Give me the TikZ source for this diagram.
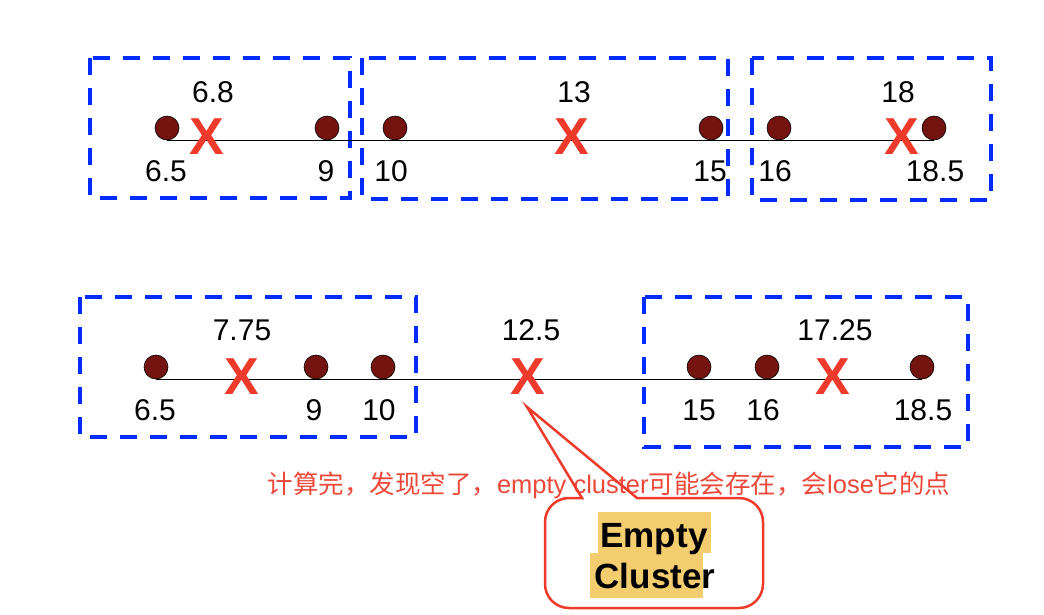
\documentclass[tikz,border=0pt]{standalone}
\usepackage{fontspec}
\setmainfont{Liberation Sans}
\newfontfamily\cjk{Noto Sans CJK SC}
\definecolor{boxblue}{RGB}{0,45,255}
\definecolor{dotred}{RGB}{115,20,16}
\definecolor{xred}{RGB}{238,58,42}
\definecolor{notered}{RGB}{236,72,58}
\definecolor{hl}{RGB}{243,205,110}
\begin{document}
\begin{tikzpicture}[x=1pt,y=-1pt,
  clusterbox/.style={draw=boxblue, line width=3.5pt, dash pattern=on 17pt off 13pt},
  datapt/.style={circle, fill=dotred, draw=black, line width=0.6pt, minimum size=24pt, inner sep=0pt},
  centroid/.style={text=xred, font=\fontsize{52}{52}\selectfont\bfseries, inner sep=0pt},
  num/.style={font=\fontsize{30}{30}\selectfont, inner sep=0pt},
  axisline/.style={line width=1.5pt, draw=black},
  callout/.style={draw=xred, line width=2.5pt}]
\useasboundingbox (0,0) rectangle (1044,614);
% ---------- top row ----------
\draw[clusterbox] (90,58) rectangle (350,198);
\draw[clusterbox] (362,58) rectangle (728,199);
\draw[clusterbox] (752,58) rectangle (991,200);
\node[datapt] (t1) at (167,128) {};
\node[datapt] (t2) at (327,128) {};
\node[datapt] (t3) at (395,128) {};
\node[datapt] (t4) at (711,128) {};
\node[datapt] (t5) at (779,128) {};
\node[datapt] (t6) at (934,128) {};
\draw[axisline] (t1.south) -- (t6.south);
\node[centroid] (tc1) at (207,137) {X};
\node[centroid] (tc2) at (572,137) {X};
\node[centroid] (tc3) at (902,137) {X};
\node[num] (tl1) at (213,92) {6.8};
\node[num] (tl2) at (574,92) {13};
\node[num] (tl3) at (898,92) {18};
\node[num] (tb1) at (166,171) {6.5};
\node[num] (tb2) at (326,171) {9};
\node[num] (tb3) at (391,171) {10};
\node[num] (tb4) at (710,171) {15};
\node[num] (tb5) at (775,171) {16};
\node[num] (tb6) at (935,171) {18.5};
% ---------- bottom row ----------
\draw[clusterbox] (80,297) rectangle (416,437);
\draw[clusterbox] (644,297) rectangle (968,447);
\node[datapt] (b1) at (156,367) {};
\node[datapt] (b2) at (316,367) {};
\node[datapt] (b3) at (383,367) {};
\node[datapt] (b4) at (699,367) {};
\node[datapt] (b5) at (767,367) {};
\node[datapt] (b6) at (922,367) {};
\draw[axisline] (b1.south) -- (b6.south);
\node[centroid] (bc1) at (242,377) {X};
\node[centroid] (bc2) at (528,377) {X};
\node[centroid] (bc3) at (833,377) {X};
\node[num] (bl1) at (242,330) {7.75};
\node[num] (bl2) at (531,330) {12.5};
\node[num] (bl3) at (835,330) {17.25};
\node[num] (bb1) at (155,410) {6.5};
\node[num] (bb2) at (314,410) {9};
\node[num] (bb3) at (379,410) {10};
\node[num] (bb4) at (699,410) {15};
\node[num] (bb5) at (763,410) {16};
\node[num] (bb6) at (923,410) {18.5};
% ---------- note ----------
\node[text=notered, font=\fontsize{25.5}{25.5}\selectfont, inner sep=0pt] (note) at (609,485)
  {{\cjk 计算完，发现空了，}empty cluster{\cjk 可能会存在，会}lose{\cjk 它的点}};
% ---------- callout ----------
\coordinate (tip) at (527,407);
\draw[callout] (582,498) -- (tip) -- (637,498)
  [rounded corners=24pt] -- (763,498) -- (763,608) -- (545,608) -- (545,498) [sharp corners] -- cycle;
\fill[hl] (598,512) rectangle (711,553);
\fill[hl] (590,553) rectangle (703,598);
\node[anchor=base, font=\fontsize{35}{35}\selectfont\bfseries, inner sep=0pt] (e1) at (654,547) {Empty};
\node[anchor=base, font=\fontsize{35}{35}\selectfont\bfseries, inner sep=0pt] (e2) at (655,588) {Cluster};
\end{tikzpicture}
\end{document}
